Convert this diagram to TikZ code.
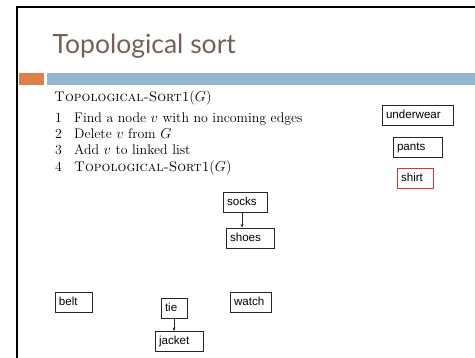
\documentclass[tikz,border=0pt]{standalone}
\usepackage{fontspec}
\newfontfamily\titlefont{Lato}
\newfontfamily\boxfont{Liberation Sans}
\usetikzlibrary{arrows.meta}
\definecolor{titlebrown}{HTML}{775F55}
\definecolor{accentorange}{HTML}{DD8047}
\definecolor{accentblue}{HTML}{94B6D2}
\definecolor{nodered}{HTML}{E83030}
\tikzset{
  box/.style={draw=black!85, line width=0.9pt, inner xsep=4pt, inner ysep=0pt,
    minimum height=20pt, align=left, font=\boxfont\fontsize{11.6}{13}\selectfont,
    text height=8.7pt, text depth=2.5pt},
  edge/.style={-{Stealth[length=3.5pt,width=3pt]}, line width=0.6pt, black!85},
  algo/.style={anchor=base west, inner sep=0pt, font=\fontsize{13.9}{16}\selectfont}
}
\begin{document}
\begin{tikzpicture}[x=1pt,y=-1pt]
\useasboundingbox (0,0) rectangle (475,357);
% slide frame
\draw[line width=2.4pt, line cap=butt] (17.2,358) -- (17.2,7.2) -- (476,7.2);
% title and accent bars
\node[anchor=base west, inner sep=0pt, text=titlebrown, font=\titlefont\fontsize{26.5}{31}\selectfont] (title) at (52.5,53) {Topological sort};
\fill[accentorange] (18.5,73) rectangle (44,85);
\fill[accentblue] (47,73) rectangle (476,85);
% pseudocode
\node[algo] (head) at (54,101.5) {\textsc{Topological-Sort1}$(G)$};
\node[algo] (n1) at (55,122.5) {1};
\node[algo] (l1) at (74,122.5) {Find a node $v$ with no incoming edges};
\node[algo] (n2) at (55,138.5) {2};
\node[algo] (l2) at (74,138.5) {Delete $v$ from $G$};
\node[algo] (n3) at (55,154.5) {3};
\node[algo] (l3) at (74,154.5) {Add $v$ to linked list};
\node[algo] (n4) at (55,171.5) {4};
\node[algo] (l4) at (74,171.5) {\textsc{Topological-Sort1}$(G)$};
% clothing nodes
\node[box, text width=63pt] (underwear) at (417.5,115) {underwear};
\node[box, text width=41pt] (pants) at (417.5,147) {pants};
\node[box, text width=28pt, draw=nodered] (shirt) at (415,178) {shirt};
\node[box, text width=36pt] (socks) at (245,202) {socks};
\node[box, text width=40pt] (shoes) at (250,238) {shoes};
\node[box, text width=29pt] (belt) at (73.5,302.5) {belt};
\node[box, text width=18pt] (tie) at (174,308.5) {tie};
\node[box, text width=40pt] (jacket) at (179,341.5) {jacket};
\node[box, text width=33pt] (watch) at (250.5,302.5) {watch};
% dependencies
\draw[edge] (socks.south -| 242,0) -- (shoes.north -| 242,0);
\draw[edge] (tie) -- (tie |- jacket.north);
\end{tikzpicture}
\end{document}
